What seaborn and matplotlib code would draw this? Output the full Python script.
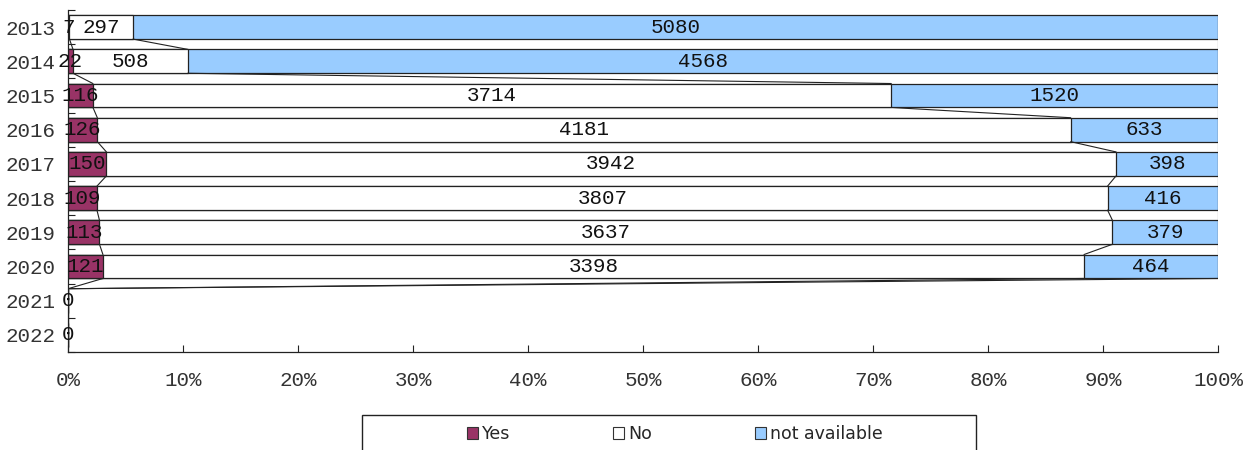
import matplotlib
matplotlib.use("Agg")
import matplotlib.pyplot as plt
import seaborn as sns
import numpy as np
import pandas as pd
from matplotlib.patches import Patch, Rectangle
from matplotlib.ticker import FixedLocator

years = ["2013", "2014", "2015", "2016", "2017", "2018", "2019", "2020", "2021", "2022"]
yes_vals = [7, 22, 116, 126, 150, 109, 113, 121, 0, 0]
no_vals = [297, 508, 3714, 4181, 3942, 3807, 3637, 3398, 0, 0]
na_vals = [5080, 4568, 1520, 633, 398, 416, 379, 464, 0, 0]
series_names = ["Yes", "No", "not available"]
x_tick_labels = ["0%", "10%", "20%", "30%", "40%", "50%", "60%", "70%", "80%", "90%", "100%"]

c_yes = "#993366"
c_no = "#FFFFFF"
c_na = "#99CCFF"

sns.set_theme(style="white")
mono = "Liberation Mono"
fs = 15

yes = np.array(yes_vals, float)
no = np.array(no_vals, float)
na = np.array(na_vals, float)
tot = yes + no + na
safe = np.where(tot > 0, tot, 1)
p_yes = yes / safe * 100
p_no = no / safe * 100
p_na = na / safe * 100
cum1 = p_yes
cum2 = p_yes + p_no
cum3 = p_yes + p_no + p_na

df = pd.DataFrame({"year": years, "c1": cum1, "c2": cum2, "c3": cum3})

fig = plt.figure(figsize=(12.55, 4.5), dpi=100)
ax = fig.add_axes([68 / 1255, 1 - 352 / 450, (1218 - 68) / 1255, (352 - 10) / 450])

for col, colr in [("c3", c_na), ("c2", c_no), ("c1", c_yes)]:
    sns.barplot(data=df, x=col, y="year", order=years, orient="h", color=colr,
                saturation=1, edgecolor="#222222", linewidth=0.9, width=0.7, ax=ax)

# connector lines
h = 0.35
for i in range(len(years) - 1):
    for b in (cum1, cum2, cum3):
        ax.plot([b[i], b[i + 1]], [i + h, i + 1 - h], color="#222222", lw=0.8, zorder=3)

# labels
for i in range(len(years)):
    if tot[i] == 0:
        ax.text(0, i, "0", ha="center", va="center", fontsize=fs, family=mono, color="#111111", zorder=4)
        continue
    starts = [0, cum1[i], cum2[i]]
    widths = [p_yes[i], p_no[i], p_na[i]]
    vals = [yes_vals[i], no_vals[i], na_vals[i]]
    for s, w, v in zip(starts, widths, vals):
        ax.text(s + w / 2, i, str(v), ha="center", va="center", fontsize=fs,
                family=mono, color="#111111", zorder=4)

ax.set_xlim(0, 100)
ax.set_ylim(len(years) - 0.5, -0.5)
ax.set_xlabel("")
ax.set_ylabel("")
ax.set_xticks(np.arange(0, 101, 10))
ax.set_xticklabels(x_tick_labels, family=mono, fontsize=fs, color="#333333")
ax.set_yticks(range(len(years)))
ax.set_yticklabels(years, family=mono, fontsize=fs, color="#333333")
ax.yaxis.set_minor_locator(FixedLocator(np.arange(-0.5, len(years), 1)))
ax.tick_params(axis="y", which="major", length=0, pad=9)
ax.tick_params(axis="y", which="minor", direction="in", length=5, width=0.8, color="#222222", left=True)
ax.tick_params(axis="x", which="major", direction="in", length=5, width=0.8, color="#222222", bottom=True, pad=14)
for s in ("top", "right"):
    ax.spines[s].set_visible(False)
for s in ("left", "bottom"):
    ax.spines[s].set_color("#222222")
    ax.spines[s].set_linewidth(0.9)
ax.grid(False)

# legend box
fig.patches.append(Rectangle((362 / 1255, -0.01), (976 - 362) / 1255, (450 - 415) / 450 + 0.01,
                             transform=fig.transFigure, facecolor="none", edgecolor="#222222",
                             lw=1.0, clip_on=False))
handles = [Patch(facecolor=c, edgecolor="#333333", linewidth=0.8) for c in (c_yes, c_no, c_na)]
fig.legend(handles, series_names, loc="center left", bbox_to_anchor=(467 / 1255, 1 - 434 / 450),
           ncol=3, frameon=False, handlelength=0.63, handleheight=0.63,
           handletextpad=0.25, columnspacing=5.9, borderaxespad=0, borderpad=0,
           prop={"family": "DejaVu Sans", "size": 12.5})

fig.savefig("out.png", dpi=100)
